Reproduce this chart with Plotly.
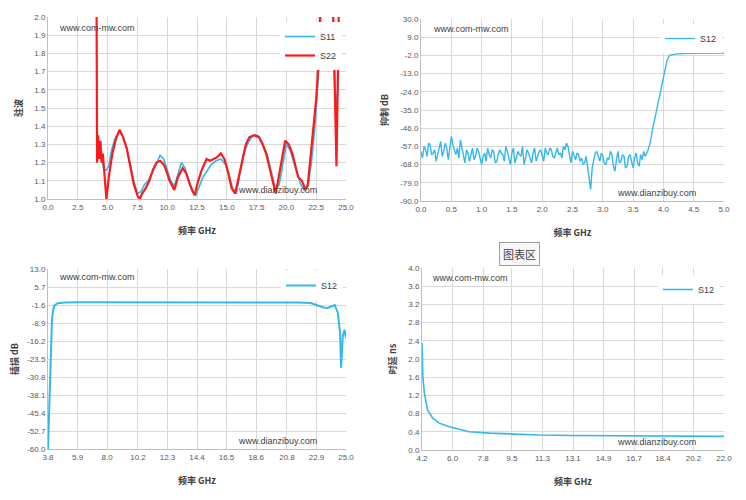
import numpy as np
import plotly.graph_objects as go

# the page body adds an 8px margin, so the figure is drawn 8px smaller and positions are shifted
OFF = 8
W, H = 746 - OFF, 500 - OFF

# top left: VSWR S11 / S22
s11_f = [4.3, 4.5, 4.7, 4.9, 5.1, 5.3, 5.6, 6.0, 6.3, 6.6, 6.9, 7.2, 7.5, 7.8, 8.1, 8.4, 8.8, 9.1, 9.4, 9.7,
         10.0, 10.3, 10.6, 10.9, 11.2, 11.5, 11.8, 12.1, 12.4, 12.7, 13.0, 13.3, 13.7, 14.1, 14.5, 14.9, 15.2,
         15.5, 15.8, 16.1, 16.4, 16.8, 17.2, 17.6, 18.0, 18.4, 18.8, 19.1, 19.4, 19.7, 20.0, 20.3, 20.6, 20.9,
         21.2, 21.5, 21.8, 22.1, 22.4, 22.7, 23.0, 23.8, 24.1, 24.3, 24.5]
s11_v = [1.28, 1.22, 1.16, 1.16, 1.18, 1.26, 1.33, 1.37, 1.34, 1.28, 1.19, 1.10, 1.03, 1.04, 1.08, 1.10, 1.15,
         1.20, 1.24, 1.22, 1.16, 1.10, 1.07, 1.14, 1.20, 1.17, 1.10, 1.04, 1.02, 1.07, 1.12, 1.15, 1.19, 1.21,
         1.22, 1.19, 1.12, 1.06, 1.03, 1.15, 1.25, 1.31, 1.35, 1.35, 1.31, 1.24, 1.14, 1.05, 1.08, 1.20, 1.30,
         1.27, 1.20, 1.14, 1.08, 1.05, 1.07, 1.20, 1.40, 1.70, 2.20, 2.30, 1.50, 1.60, 1.90]
s22_f = [4.05, 4.08, 4.12, 4.2, 4.3, 4.4, 4.5, 4.6, 4.75, 4.9, 5.1, 5.4, 5.7, 6.0, 6.3, 6.6, 6.9, 7.2, 7.5, 7.7,
         7.9, 8.2, 8.5, 8.8, 9.1, 9.4, 9.7, 9.9, 10.2, 10.6, 10.9, 11.3, 11.6, 11.9, 12.3, 12.6, 12.9, 13.3,
         13.6, 13.9, 14.2, 14.5, 14.8, 15.1, 15.4, 15.7, 16.0, 16.3, 16.6, 16.9, 17.3, 17.7, 18.0, 18.3, 18.6,
         18.9, 19.1, 19.3, 19.6, 19.9, 20.2, 20.5, 20.8, 21.0, 21.3, 21.6, 21.8, 22.0, 22.2, 22.5, 22.7, 22.9,
         23.5, 23.9, 24.0, 24.1, 24.2, 24.3, 24.45]
s22_v = [2.5, 2.1, 1.2, 1.35, 1.22, 1.32, 1.2, 1.25, 1.1, 1.0, 1.12, 1.25, 1.33, 1.38, 1.34, 1.28, 1.18, 1.08,
         1.02, 1.0, 1.03, 1.06, 1.1, 1.16, 1.2, 1.21, 1.19, 1.16, 1.1, 1.05, 1.12, 1.17, 1.14, 1.08, 1.02, 1.1,
         1.16, 1.22, 1.21, 1.22, 1.23, 1.25, 1.22, 1.15, 1.06, 1.03, 1.12, 1.22, 1.3, 1.34, 1.35, 1.34, 1.3,
         1.25, 1.17, 1.08, 1.03, 1.1, 1.22, 1.32, 1.3, 1.25, 1.17, 1.12, 1.1, 1.05, 1.08, 1.2, 1.35, 1.55, 1.75,
         2.2, 2.4, 2.1, 1.76, 1.4, 1.18, 1.6, 2.3]

# top right: S12 rejection, noise floor sampled every 25 MHz from 0 to 3.70 GHz, then the rising edge
rej_noise = [-60, -64, -57, -59, -63, -55, -56, -62, -61, -59,
             -66, -62, -58, -54, -63, -60, -55, -58, -65, -57,
             -51, -56, -60, -62, -58, -64, -53, -57, -62, -67,
             -59, -61, -66, -62, -58, -65, -63, -58, -60, -64,
             -68, -63, -61, -66, -58, -62, -64, -59, -60, -67,
             -66, -62, -59, -61, -62, -66, -57, -60, -65, -68,
             -61, -58, -67, -63, -60, -62, -63, -57, -68, -64,
             -59, -61, -64, -67, -61, -58, -66, -62, -60, -59,
             -63, -66, -58, -61, -62, -58, -59, -63, -64, -60,
             -58, -62, -61, -64, -57, -59, -55, -57, -62, -67,
             -60, -63, -65, -61, -62, -66, -64, -68, -67, -63,
             -70, -76, -83, -70, -64, -61, -60, -63, -66, -61,
             -63, -67, -68, -64, -65, -60, -62, -69, -72, -65,
             -60, -67, -66, -62, -63, -70, -69, -63, -62, -66,
             -70, -64, -61, -67, -69, -62, -65, -60, -63]
edge_f = [3.74, 3.78, 3.82, 3.86, 3.90, 3.94, 3.98, 4.02, 4.06, 4.10, 4.2, 4.4, 4.7, 5.0]
edge_v = [-60, -55, -47, -40, -33, -25, -18, -11, -5, -2, -1.2, -0.8, -0.7, -0.6]
rej_f = list(np.round(np.arange(len(rej_noise)) * 0.025, 3)) + edge_f
rej_v = rej_noise + edge_v
rej_ticks = [-90, -79, -68, -57, -46, -35, -24, -13, -2, 9, 20]
rej_labels = ["-90.0", "-79.0", "-68.0", "-57.0", "-46.0", "-35.0", "-24.0", "-13.0", "-2.0", "9.0", "30.0"]

# bottom left: S12 insertion loss
il_f = [3.8, 3.87, 3.93, 3.98, 4.02, 4.08, 4.15, 4.25, 4.5, 5.0, 6.0, 8.0, 10.0, 12.0, 14.0, 16.0, 18.0,
        20.0, 21.5, 22.5, 23.0, 23.4, 23.7, 24.0, 24.2, 24.42, 24.58, 24.65, 24.77, 24.89, 25.0]
il_v = [-60, -45, -35, -30, -20, -8, -4, -1.8, -0.9, -0.6, -0.5, -0.5, -0.4, -0.45, -0.5, -0.5, -0.5,
        -0.5, -0.6, -0.8, -1.8, -2.6, -2.8, -2.2, -1.6, -4.8, -13, -27, -14.3, -11.6, -15]
il_ticks = [-60.0, -52.7, -45.4, -38.1, -30.8, -23.5, -16.2, -8.9, -1.6, 5.7, 13.0]
il_xticks = [3.8, 5.9, 8.0, 10.2, 12.3, 14.4, 16.5, 18.6, 20.8, 22.9, 25.0]

# bottom right: group delay
gd_f = [4.2, 4.22, 4.25, 4.34, 4.53, 4.83, 5.22, 5.81, 6.4, 6.98, 8.16, 9.54, 11.1, 13.07, 17.0, 22.0]
gd_v = [2.35, 1.9, 1.61, 1.25, 0.88, 0.70, 0.59, 0.51, 0.45, 0.40, 0.37, 0.345, 0.33, 0.32, 0.31, 0.30]
gd_xticks = [4.2, 6.0, 7.8, 9.5, 11.3, 13.1, 14.9, 16.7, 18.4, 20.2, 22.0]

BLUE = "#33b8ec"
RED = "#ff1a1a"
CJK = "Noto Sans CJK SC"
TICKF = dict(family="Liberation Sans", size=8, color="#595959")


def px(x):
    return (x - OFF) / W


def py(y):
    return 1 - (y - OFF) / H


def xdom(a, b):
    return [px(a), px(b)]


def ydom(top, bottom):
    return [py(bottom), py(top)]


fig = go.Figure()
fig.add_trace(go.Scatter(x=s11_f, y=s11_v, mode="lines", name="S11", line=dict(color=BLUE, width=1.6),
                         xaxis="x", yaxis="y", legend="legend"))
fig.add_trace(go.Scatter(x=s22_f, y=s22_v, mode="lines", name="S22", line=dict(color=RED, width=2.2),
                         xaxis="x", yaxis="y", legend="legend"))
fig.add_trace(go.Scatter(x=rej_f, y=rej_v, mode="lines", name="S12", line=dict(color=BLUE, width=1.4),
                         xaxis="x2", yaxis="y2", legend="legend2"))
fig.add_trace(go.Scatter(x=il_f, y=il_v, mode="lines", name="S12", line=dict(color=BLUE, width=2),
                         xaxis="x3", yaxis="y3", legend="legend3"))
fig.add_trace(go.Scatter(x=gd_f, y=gd_v, mode="lines", name="S12", line=dict(color=BLUE, width=1.6),
                         xaxis="x4", yaxis="y4", legend="legend4"))

grid = dict(showgrid=True, gridcolor="#d9d9d9", gridwidth=1, zeroline=False, showline=True,
            linecolor="#bfbfbf", ticks="", tickfont=TICKF, fixedrange=True, automargin=False)


def xt(text):
    return dict(text="<b>" + text + "</b>", font=dict(family=CJK, size=9, color="#404040"), standoff=17)


def yt(text):
    return dict(text="<b>" + text + "</b>", font=dict(family=CJK, size=9, color="#404040"), standoff=10)


fig.update_layout(
    width=W, height=H, margin=dict(l=0, r=0, t=0, b=0),
    paper_bgcolor="white", plot_bgcolor="white",
    xaxis=dict(grid, domain=xdom(48, 346), range=[0, 25], tickvals=list(np.arange(0, 25.1, 2.5)),
               tickformat=".1f", title=xt("频率 GHz"), anchor="y"),
    yaxis=dict(grid, domain=ydom(17, 199), range=[1.0, 2.0], dtick=0.1, tickformat=".1f",
               title=yt("驻波"), anchor="x"),
    xaxis2=dict(grid, domain=xdom(421, 724), range=[0, 5], dtick=0.5, tickformat=".1f",
                title=xt("频率 GHz"), anchor="y2"),
    yaxis2=dict(grid, domain=ydom(19, 201), range=[-90, 20], tickvals=rej_ticks, ticktext=rej_labels,
                title=yt("抑制 dB"), anchor="x2"),
    xaxis3=dict(grid, domain=xdom(48, 346), range=[3.8, 25.0], tickvals=il_xticks,
                ticktext=[f"{v:.1f}" for v in il_xticks], title=xt("频率 GHz"), anchor="y3"),
    yaxis3=dict(grid, domain=ydom(269, 449), range=[-60, 13], tickvals=il_ticks,
                ticktext=[f"{v:.1f}" for v in il_ticks], title=yt("插损 dB"), anchor="x3"),
    xaxis4=dict(grid, domain=xdom(422, 724), range=[4.2, 22.0], tickvals=gd_xticks,
                ticktext=[f"{v:.1f}" for v in gd_xticks], title=xt("频率 GHz"), anchor="y4"),
    yaxis4=dict(grid, domain=ydom(268, 450), range=[0, 4.0], dtick=0.4, tickformat=".1f",
                title=yt("时延 ns"), anchor="x4"),
    showlegend=True,
)

leg = dict(bgcolor="white", borderwidth=0, font=dict(family="Liberation Sans", size=9, color="#404040"),
           xanchor="left", yanchor="top", itemwidth=30, tracegroupgap=2)
fig.update_layout(
    legend=dict(leg, x=px(280), y=py(22)),
    legend2=dict(leg, x=px(660), y=py(24)),
    legend3=dict(leg, x=px(281), y=py(271)),
    legend4=dict(leg, x=px(658), y=py(275)),
)

# watermarks
marks = [
    ("www.com-mw.com", 57, 28), ("www.dianzibuy.com", 236, 190),
    ("www.com-mw.com", 431, 29), ("www.dianzibuy.com", 615, 193),
    ("www.com-mw.com", 57, 277), ("www.dianzibuy.com", 236, 441),
    ("www.com-mw.com", 430, 278), ("www.dianzibuy.com", 615, 442),
]
for text, x, y in marks:
    fig.add_annotation(text=text, x=px(x), y=py(y), xref="paper", yref="paper", xanchor="left",
                       yanchor="middle", showarrow=False,
                       font=dict(family="Liberation Sans", size=9, color="#404040"))

# chart-area tooltip
fig.add_annotation(text="图表区", x=px(540), y=py(254), xref="paper", yref="paper", showarrow=False,
                   font=dict(family=CJK, size=11, color="#404040"), bgcolor="#f7f7f7",
                   bordercolor="#a0a0a0", borderwidth=1, borderpad=3)

fig.write_html("out.html")
